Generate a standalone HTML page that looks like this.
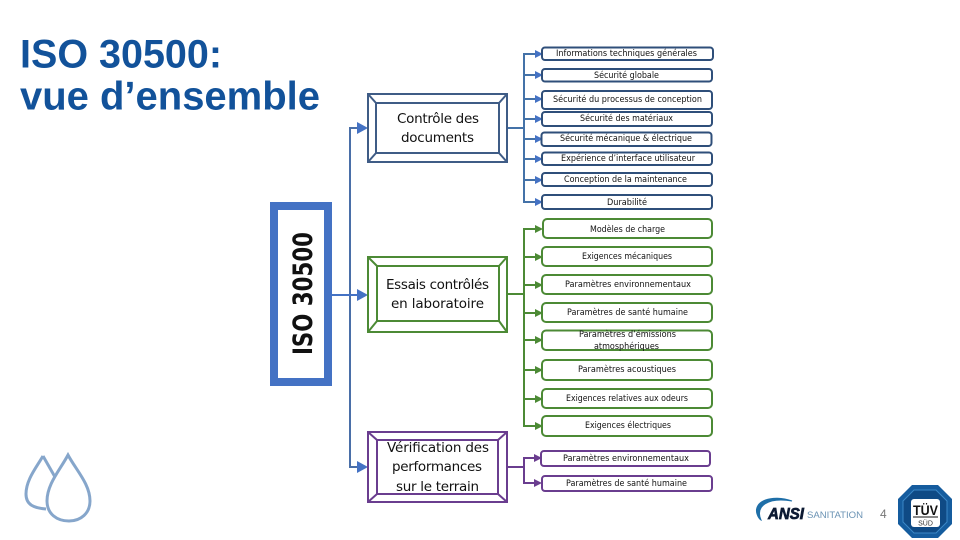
<!DOCTYPE html>
<html lang="fr"><head><meta charset="utf-8"><title>ISO 30500</title>
<style>
html,body{margin:0;padding:0;background:#fff;width:960px;height:540px;overflow:hidden}
svg{display:block}
.s{font:8.500px "DejaVu Sans",sans-serif;fill:#111;text-anchor:middle}
.b{font:13.500px "DejaVu Sans",sans-serif;fill:#111;text-anchor:middle}
.t{font:bold 40px "Liberation Sans",sans-serif;fill:#12529a}
rect.sb{fill:#fff;stroke-width:2}
</style></head><body>
<svg width="960" height="540" viewBox="0 0 960 540" xmlns="http://www.w3.org/2000/svg">
<text class="t" x="20" y="67.500" textLength="202" lengthAdjust="spacingAndGlyphs">ISO 30500:</text>
<text class="t" x="20" y="109.500" textLength="300" lengthAdjust="spacingAndGlyphs">vue d’ensemble</text>

<!-- droplets -->
<g fill="none" stroke="#86a6cb" stroke-width="3">
<path d="M43 456C36 468 26 480 26 494C26 505 34 508 46 509"/>
<path d="M43 456L55 477"/>
<path d="M68 455C60 470 47 484 47 501C47 514 57 521 69 521C81 521 90 513 90 501C90 484 76 470 68 455Z" fill="#fff"/>
</g>

<!-- main connector -->
<g fill="none" stroke="#4a6fa8" stroke-width="2">
<path d="M362 128H350V467H362"/>
<path d="M332 295H362" stroke="#4472c4"/>
</g>
<g fill="#4472c4">
<path d="M357 122L368 128L357 134Z"/>
<path d="M357 289L368 295L357 301Z"/>
<path d="M357 461L368 467L357 473Z"/>
</g>

<!-- ISO box -->
<rect x="274" y="206" width="54" height="176" fill="#fff" stroke="#4472c4" stroke-width="8"/>
<text transform="translate(312,355) rotate(-90)" style="font:bold 27px 'DejaVu Sans',sans-serif;fill:#111" textLength="123" lengthAdjust="spacingAndGlyphs">ISO 30500</text>

<!-- blue connectors -->
<g fill="none" stroke="#4472a8" stroke-width="2">
<path d="M507 128H524M536 54H524V202H536M524 75H536M524 99H536M524 119H536M524 139H536M524 159H536M524 180H536"/>
</g>
<g fill="#4472c4">
<path d="M535 50L543 54L535 58ZM535 71L543 75L535 79ZM535 95L543 99L535 103ZM535 115L543 119L535 123ZM535 135L543 139L535 143ZM535 155L543 159L535 163ZM535 176L543 180L535 184ZM535 198L543 202L535 206Z"/>
</g>

<!-- green connectors -->
<g fill="none" stroke="#4c8a35" stroke-width="2">
<path d="M507 294H524M536 229H524V426H536M524 257H536M524 285H536M524 313H536M524 340H536M524 370H536M524 399H536"/>
</g>
<g fill="#4c8a35">
<path d="M535 225L543 229L535 233ZM535 253L543 257L535 261ZM535 281L543 285L535 289ZM535 309L543 313L535 317ZM535 336L543 340L535 344ZM535 366L543 370L535 374ZM535 395L543 399L535 403ZM535 422L543 426L535 430Z"/>
</g>

<!-- purple connectors -->
<g fill="none" stroke="#6a3d8f" stroke-width="2">
<path d="M507 467H524M536 458H524V483H536"/>
</g>
<g fill="#6a3d8f">
<path d="M534 454L542 458L534 462ZM534 479L542 483L534 487Z"/>
</g>

<!-- bevel boxes -->
<g fill="#fff" stroke="#3f5c86" stroke-width="2">
<rect x="368" y="94" width="139" height="68"/><rect x="376" y="103" width="123" height="50"/>
<path d="M368 94L376 103M507 94L499 103M368 162L376 153M507 162L499 153"/>
</g>
<g fill="#fff" stroke="#4c8a35" stroke-width="2">
<rect x="368" y="257" width="139" height="75"/><rect x="377" y="266" width="122" height="55"/>
<path d="M368 257L377 266M507 257L499 266M368 332L377 321M507 332L499 321"/>
</g>
<g fill="#fff" stroke="#6a3d8f" stroke-width="2">
<rect x="368" y="432" width="139" height="70"/><rect x="377" y="440" width="121" height="54"/>
<path d="M368 432L377 440M507 432L498 440M368 502L377 494M507 502L498 494"/>
</g>
<text class="b" x="438" y="123" textLength="82">Contrôle des</text>
<text class="b" x="437.500" y="142" textLength="73">documents</text>
<text class="b" x="437.500" y="289" textLength="103">Essais contrôlés</text>
<text class="b" x="437.500" y="308" textLength="93">en laboratoire</text>
<text class="b" x="438" y="452" textLength="102">Vérification des</text>
<text class="b" x="437" y="471" textLength="90">performances</text>
<text class="b" x="437.500" y="491" textLength="83">sur le terrain</text>

<!-- small boxes -->
<g stroke="#2f4f7a">
<rect class="sb" x="542" y="47.500" width="171" height="12.500" rx="3"/>
<rect class="sb" x="542" y="69" width="170" height="12.500" rx="3"/>
<rect class="sb" x="542" y="91" width="170" height="18" rx="3"/>
<rect class="sb" x="542" y="112" width="170" height="14" rx="3"/>
<rect class="sb" x="541.500" y="132.500" width="170" height="13.500" rx="3"/>
<rect class="sb" x="542" y="152.500" width="170" height="12.500" rx="3"/>
<rect class="sb" x="542" y="173" width="170" height="13" rx="3"/>
<rect class="sb" x="542" y="195" width="170" height="14" rx="3"/>
</g>
<g stroke="#4c8a35">
<rect class="sb" x="543" y="219" width="169" height="19" rx="4"/>
<rect class="sb" x="542" y="247" width="170" height="19" rx="4"/>
<rect class="sb" x="542" y="275" width="170" height="19" rx="4"/>
<rect class="sb" x="542" y="303" width="170" height="19" rx="4"/>
<rect class="sb" x="542" y="330.500" width="170" height="19.500" rx="4"/>
<rect class="sb" x="542" y="360" width="170" height="20" rx="4"/>
<rect class="sb" x="542" y="389" width="170" height="19" rx="4"/>
<rect class="sb" x="542" y="416" width="170" height="20" rx="4"/>
</g>
<g stroke="#6a3d8f">
<rect class="sb" x="541" y="451" width="169" height="15" rx="3"/>
<rect class="sb" x="542" y="476" width="170" height="15" rx="3"/>
</g>

<text class="s" x="626.500" y="56" textLength="141" lengthAdjust="spacingAndGlyphs">Informations techniques générales</text>
<text class="s" x="626.500" y="78" textLength="65" lengthAdjust="spacingAndGlyphs">Sécurité globale</text>
<text class="s" x="627.500" y="102" textLength="149" lengthAdjust="spacingAndGlyphs">Sécurité du processus de conception</text>
<text class="s" x="626.500" y="121" textLength="93" lengthAdjust="spacingAndGlyphs">Sécurité des matériaux</text>
<text class="s" x="626" y="141" textLength="132" lengthAdjust="spacingAndGlyphs">Sécurité mécanique &amp; électrique</text>
<text class="s" x="628" y="161" textLength="134" lengthAdjust="spacingAndGlyphs">Expérience d’interface utilisateur</text>
<text class="s" x="625.500" y="182" textLength="123" lengthAdjust="spacingAndGlyphs">Conception de la maintenance</text>
<text class="s" x="627" y="205" textLength="40" lengthAdjust="spacingAndGlyphs">Durabilité</text>

<text class="s" x="627.500" y="232" textLength="75" lengthAdjust="spacingAndGlyphs">Modèles de charge</text>
<text class="s" x="627" y="259" textLength="90" lengthAdjust="spacingAndGlyphs">Exigences mécaniques</text>
<text class="s" x="628" y="287" textLength="126" lengthAdjust="spacingAndGlyphs">Paramètres environnementaux</text>
<text class="s" x="627.500" y="315" textLength="121" lengthAdjust="spacingAndGlyphs">Paramètres de santé humaine</text>
<text class="s" x="627.500" y="337" textLength="97" lengthAdjust="spacingAndGlyphs">Paramètres d’émissions</text>
<text class="s" x="626.500" y="349" textLength="65" lengthAdjust="spacingAndGlyphs">atmosphériques</text>
<text class="s" x="627" y="372" textLength="98" lengthAdjust="spacingAndGlyphs">Paramètres acoustiques</text>
<text class="s" x="627" y="401" textLength="122" lengthAdjust="spacingAndGlyphs">Exigences relatives aux odeurs</text>
<text class="s" x="628" y="428" textLength="86" lengthAdjust="spacingAndGlyphs">Exigences électriques</text>

<text class="s" x="626" y="461" textLength="126" lengthAdjust="spacingAndGlyphs">Paramètres environnementaux</text>
<text class="s" x="626.500" y="486" textLength="121" lengthAdjust="spacingAndGlyphs">Paramètres de santé humaine</text>

<!-- ANSI logo -->
<path d="M761 520C755 506 768 497 792 501C772 494 753 501 757 514C758 517 759 519 761 520Z" fill="#1f6fa8" stroke="#1f6fa8"/>
<text x="768" y="519" style="font:italic bold 16px 'Liberation Sans',sans-serif;fill:#0d1a33;stroke:#0d1a33;stroke-width:.7" textLength="36" lengthAdjust="spacingAndGlyphs">ANSI</text>
<text x="807" y="518" style="font:9px 'Liberation Sans',sans-serif;fill:#6b93b4" textLength="56" lengthAdjust="spacingAndGlyphs">SANITATION</text>

<text x="880" y="518" style="font:12px 'Liberation Sans',sans-serif;fill:#777">4</text>

<!-- TUV logo -->
<path d="M912 485H938L952 499V524L938 538H912L898 524V499Z" fill="#155c9e"/>
<path d="M914 490H936L947 501V522L936 533H914L903 522V501Z" fill="#0f4a85" stroke="#3b87c6" stroke-width="1"/>
<rect x="911" y="499" width="29" height="28" rx="3" fill="#fff"/>
<text x="925.500" y="515" text-anchor="middle" style="font:bold 14px 'Liberation Sans',sans-serif;fill:#111" textLength="25" lengthAdjust="spacingAndGlyphs">TÜV</text>
<path d="M913 517H938" stroke="#111" stroke-width="1"/>
<text x="925.500" y="525.500" text-anchor="middle" style="font:7px 'Liberation Sans',sans-serif;fill:#333">SÜD</text>
</svg>
</body></html>
